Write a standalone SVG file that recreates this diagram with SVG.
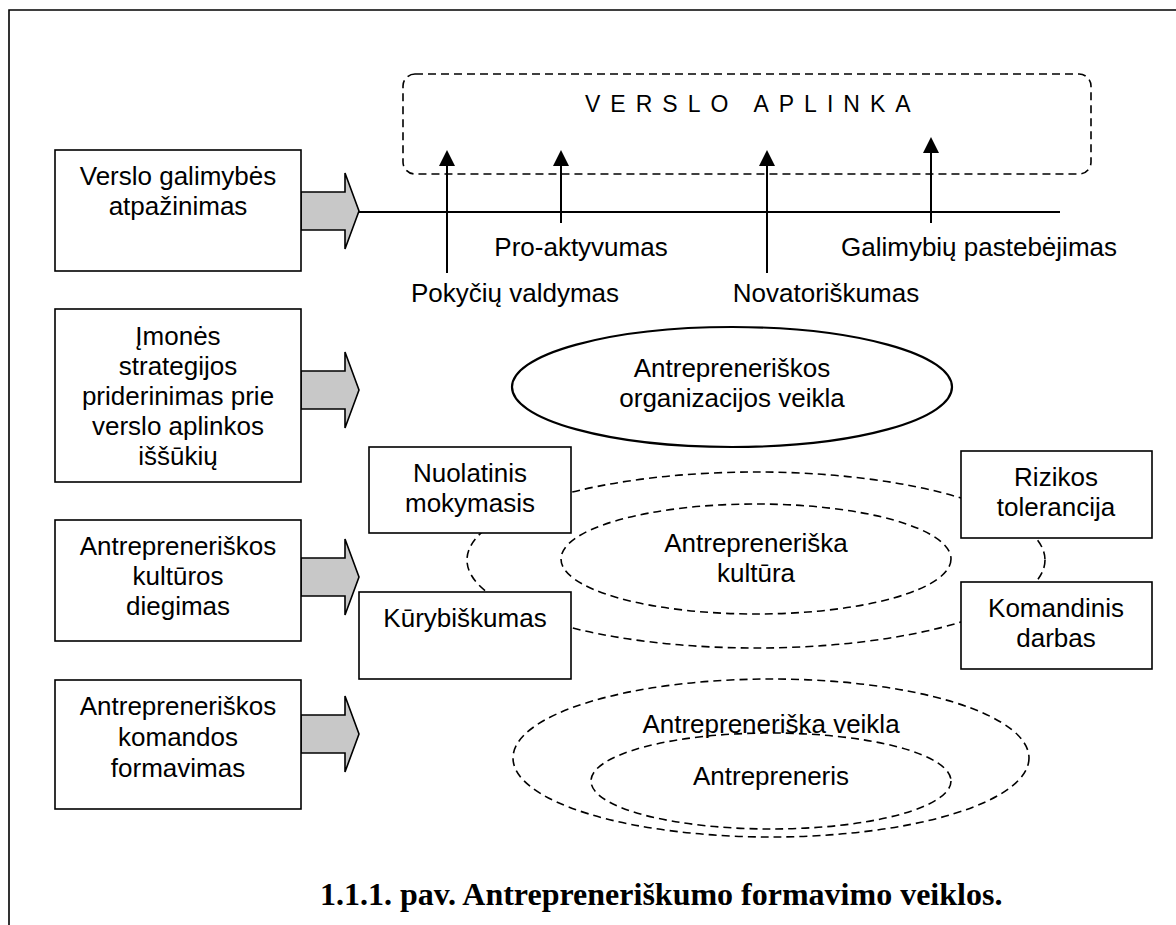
<svg xmlns="http://www.w3.org/2000/svg" width="1176" height="925" viewBox="0 0 1176 925">
<style>
  text { font-family: "Liberation Sans", Arial, sans-serif; font-size: 26px; fill: #000; }
  .c { text-anchor: middle; }
  .box { fill: #fff; stroke: #000; stroke-width: 1.6; }
  .barrow { fill: #c8c8c8; stroke: #000; stroke-width: 1.6; stroke-linejoin: miter; }
  .dash { fill: none; stroke: #000; stroke-width: 1.6; stroke-dasharray: 8 5; }
  .line { fill: none; stroke: #000; stroke-width: 2; }
  .cap { font-family: "Liberation Serif", "Times New Roman", serif; font-weight: bold; font-size: 32px; }
  .sp { font-size: 23px; letter-spacing: 10px; }
</style>
<defs>
  <marker id="ah" markerWidth="16" markerHeight="16" refX="8" refY="1" viewBox="0 0 16 16" orient="auto" markerUnits="userSpaceOnUse">
    <path d="M0,16 L8,0 L16,16 Z" fill="#000"/>
  </marker>
</defs>

<!-- frame -->
<path d="M9,925 L9,10 L1176,10" fill="none" stroke="#000" stroke-width="1.6"/>

<!-- background dashed connectors (ellipse ring linking the four boxes) -->
<g id="connectors">
  <ellipse class="dash" cx="756" cy="560" rx="289" ry="88"/>
  <line class="line" x1="359" y1="212" x2="1060" y2="212"/>
  <line class="line" x1="447" y1="273" x2="447" y2="166"/>
  <line class="line" x1="561" y1="223" x2="561" y2="166"/>
  <line class="line" x1="767" y1="273" x2="767" y2="166"/>
  <line class="line" x1="931" y1="223" x2="931" y2="153"/>
  <path d="M439,166 L447,150 L455,166 Z" fill="#000"/>
  <path d="M553,166 L561,150 L569,166 Z" fill="#000"/>
  <path d="M759,166 L767,150 L775,166 Z" fill="#000"/>
  <path d="M923,153 L931,137 L939,153 Z" fill="#000"/>
  <polygon class="barrow" points="301,192 345,192 345,173 359,211 345,249 345,230 301,230"/>
  <polygon class="barrow" points="301,371 345,371 345,352 359,390 345,428 345,409 301,409"/>
  <polygon class="barrow" points="301,558 345,558 345,539 359,577 345,615 345,596 301,596"/>
  <polygon class="barrow" points="301,715 345,715 345,696 359,734 345,772 345,753 301,753"/>
</g>

<g id="versloAplinka">
  <rect class="dash" x="403" y="74" width="688" height="100" rx="12" ry="12"/>
  <text class="sp" x="585" y="112">VERSLO APLINKA</text>
</g>

<g id="labels">
  <text class="c" x="581" y="256">Pro-aktyvumas</text>
  <text class="c" x="515" y="302">Pokyčių valdymas</text>
  <text class="c" x="826" y="302">Novatoriškumas</text>
  <text class="c" x="979" y="256">Galimybių pastebėjimas</text>
</g>

<g id="box1">
  <rect class="box" x="55" y="150" width="246" height="121"/>
  <text class="c" x="178" y="185">Verslo galimybės</text>
  <text class="c" x="178" y="215">atpažinimas</text>
</g>
<g id="box2">
  <rect class="box" x="55" y="309" width="246" height="173"/>
  <text class="c" x="178" y="345">Įmonės</text>
  <text class="c" x="178" y="375">strategijos</text>
  <text class="c" x="178" y="405">priderinimas prie</text>
  <text class="c" x="178" y="435">verslo aplinkos</text>
  <text class="c" x="178" y="465">iššūkių</text>
</g>
<g id="box3">
  <rect class="box" x="55" y="520" width="246" height="121"/>
  <text class="c" x="178" y="555">Antrepreneriškos</text>
  <text class="c" x="178" y="585">kultūros</text>
  <text class="c" x="178" y="615">diegimas</text>
</g>
<g id="box4">
  <rect class="box" x="55" y="680" width="246" height="129"/>
  <text class="c" x="178" y="715">Antrepreneriškos</text>
  <text class="c" x="178" y="746">komandos</text>
  <text class="c" x="178" y="777">formavimas</text>
</g>

<g id="orgVeikla">
  <ellipse cx="732" cy="387" rx="220" ry="60" fill="#fff" stroke="#000" stroke-width="2.2"/>
  <text class="c" x="732" y="377">Antrepreneriškos</text>
  <text class="c" x="732" y="407">organizacijos veikla</text>
</g>

<g id="kultura">
  <ellipse class="dash" cx="756" cy="559" rx="195" ry="55"/>
  <text class="c" x="756" y="552">Antrepreneriška</text>
  <text class="c" x="756" y="582">kultūra</text>
</g>

<g id="nuolatinis">
  <rect class="box" x="369" y="447" width="202" height="86"/>
  <text class="c" x="470" y="482">Nuolatinis</text>
  <text class="c" x="470" y="512">mokymasis</text>
</g>
<g id="kurybiskumas">
  <rect class="box" x="359" y="592" width="212" height="87"/>
  <text class="c" x="465" y="627">Kūrybiškumas</text>
</g>
<g id="rizikos">
  <rect class="box" x="961" y="451" width="191" height="87"/>
  <text class="c" x="1056" y="486">Rizikos</text>
  <text class="c" x="1056" y="516">tolerancija</text>
</g>
<g id="komandinis">
  <rect class="box" x="961" y="582" width="191" height="87"/>
  <text class="c" x="1056" y="617">Komandinis</text>
  <text class="c" x="1056" y="647">darbas</text>
</g>

<g id="veikla">
  <ellipse class="dash" cx="771" cy="758" rx="258" ry="79"/>
  <text class="c" x="771" y="733">Antrepreneriška veikla</text>
</g>
<g id="antrepreneris">
  <ellipse class="dash" cx="771" cy="781" rx="180" ry="48"/>
  <text class="c" x="771" y="785">Antrepreneris</text>
</g>

<text class="cap" x="320" y="905">1.1.1. pav. Antrepreneriškumo formavimo veiklos.</text>
</svg>
